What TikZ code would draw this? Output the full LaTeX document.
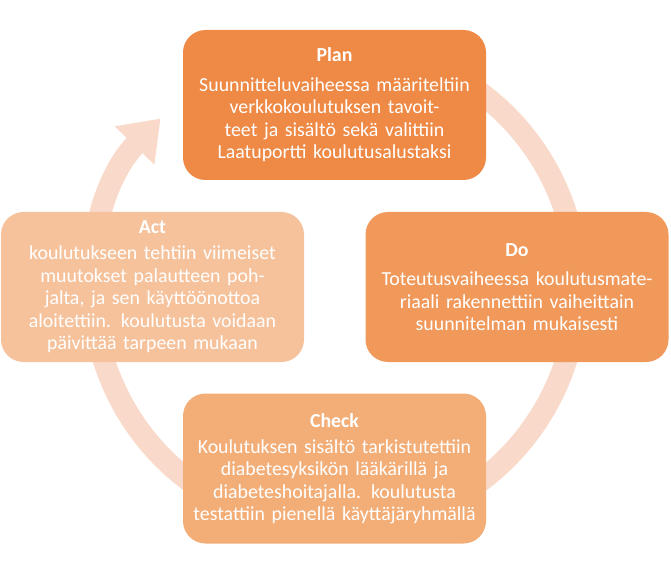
\documentclass[tikz,border=0pt]{standalone}
\usepackage{fontspec}
\setmainfont{Carlito}
\usetikzlibrary{arrows.meta}
\definecolor{planC}{HTML}{EE8A45}
\definecolor{doC}{HTML}{F0995A}
\definecolor{checkC}{HTML}{F3AE78}
\definecolor{actC}{HTML}{F6C29C}
\definecolor{ringC}{HTML}{F9D9C9}
\tikzset{
  phasebox/.style={rounded corners=0.45cm, minimum width=6.06cm, minimum height=3.0cm,
    text width=5.7cm, align=center, text=white, font=\fontsize{11.3}{12.8}\selectfont}
}
\begin{document}
\begin{tikzpicture}
  \useasboundingbox (0,0) rectangle (13.42,11.48);
  % ring
  \draw[ringC, line width=0.44cm, -{Triangle[length=0.75cm,width=1.05cm]}]
    (6.7,5.74) ++(110:4.85) arc[start angle=110, end angle=-224, radius=4.85];
  % boxes
  \node[phasebox, fill=planC] (plan) at (6.69,9.38)
    {\textbf{Plan}\\[4pt]Suunnitteluvaiheessa määriteltiin verkkokoulutuksen tavoitteet ja sisältö sekä valittiin Laatuportti koulutusalustaksi};
  \node[phasebox, fill=doC] (do) at (10.34,5.74)
    {\textbf{Do}\\[4pt]Toteutusvaiheessa koulutusmateriaali rakennettiin vaiheittain suunnitelman mukaisesti};
  \node[phasebox, fill=checkC] (check) at (6.69,2.11)
    {\textbf{Check}\\[2pt]Koulutuksen sisältö tarkistutettiin diabetesyksikön lääkärillä ja diabeteshoitajalla. koulutusta testattiin pienellä käyttäjäryhmällä};
  \node[phasebox, fill=actC] (act) at (3.05,5.74)
    {\textbf{Act}\\[2pt]koulutukseen tehtiin viimeiset muutokset palautteen pohjalta, ja sen käyttöönottoa aloitettiin. koulutusta voidaan päivittää tarpeen mukaan};
\end{tikzpicture}
\end{document}
